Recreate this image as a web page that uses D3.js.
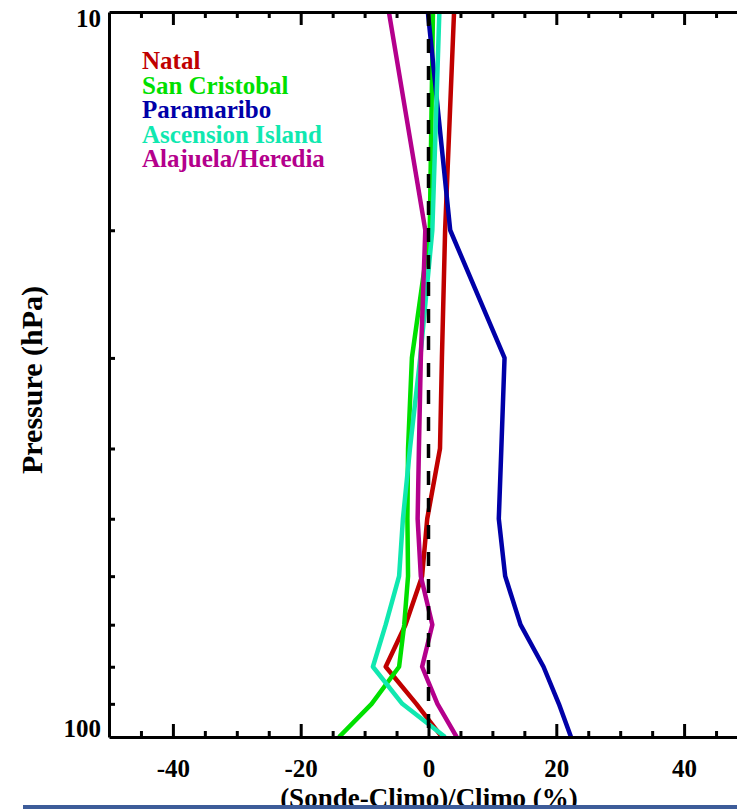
<!DOCTYPE html>
<html>
<head>
<meta charset="utf-8">
<script src="https://cdn.jsdelivr.net/npm/d3@7"></script>
<style>
  body { margin: 0; background: #fff; }
  svg { display: block; }
  svg text { font-weight: bold; }
</style>
</head>
<body>
<svg width="737" height="809"></svg>
<script>
// Pressure levels (hPa) and the relative difference of each station (%)
var pressure = [10, 20, 30, 40, 50, 60, 70, 80, 90, 100];
var natal        = [ 4.0,  2.6,  2.1,  1.8, -0.2, -1.0, -3.6, -6.7, -1.9,  2.1];
var sanCristobal = [ 0.7,  0.2, -2.6, -3.2, -3.3, -3.2, -3.8, -4.6, -8.9, -14.0];
var paramaribo   = [-0.1,  3.4, 11.9, 11.4, 11.0, 12.0, 14.4, 18.0, 20.4, 22.3];
var ascension    = [ 1.7,  0.6, -1.3, -2.9, -4.0, -4.6, -6.7, -8.7, -4.1,  2.6];
var alajuela     = [-6.2, -0.5, -1.2, -1.5, -1.7, -1.2,  0.6, -1.0,  1.4,  4.4];

var stations = ["Natal", "San Cristobal", "Paramaribo", "Ascension Island", "Alajuela/Heredia"];
var colors = ["#c00000", "#00e000", "#0000a8", "#10e8b0", "#b4008c"];
var series = [natal, sanCristobal, paramaribo, ascension, alajuela];

var xMajor = [-40, -20, 0, 20, 40];
var xMinor = [-45, -35, -30, -25, -15, -10, -5, 5, 10, 15, 25, 30, 35, 45];
var yTicks = [20, 30, 40, 50, 60, 70, 80, 90];

var serif = "Liberation Serif, Tinos, Times New Roman, Times, DejaVu Serif, serif";

// The svg
var svg = d3.select("svg"),
  width = +svg.attr("width"),
  height = +svg.attr("height");

var x = d3.scaleLinear().domain([-50, 50]).range([109, 748]);
var y = d3.scaleLog().domain([10, 100]).range([12, 737]);

svg.append("defs").append("clipPath").attr("id", "plot")
  .append("rect")
    .attr("x", x(-50)).attr("y", y(10))
    .attr("width", x(50) - x(-50)).attr("height", y(100) - y(10));

// station profiles
var line = d3.line()
  .x(function(d) { return x(d[0]); })
  .y(function(d) { return y(d[1]); });

var g = svg.append("g").attr("clip-path", "url(#plot)");
series.forEach(function(s, i) {
  g.append("path")
    .datum(s.map(function(v, k) { return [v, pressure[k]]; }))
    .attr("d", line)
    .attr("fill", "none")
    .attr("stroke", colors[i])
    .attr("stroke-width", 4.5)
    .attr("stroke-linejoin", "round");
});

// zero line
g.append("line")
  .attr("x1", x(0)).attr("x2", x(0))
  .attr("y1", y(10)).attr("y2", y(100))
  .attr("stroke", "#000")
  .attr("stroke-width", 3.5)
  .attr("stroke-dasharray", "14,13");

// axes
function styleAxis(sel) {
  sel.attr("font-family", serif);
  sel.selectAll("path").attr("stroke", "#000").attr("stroke-width", 3);
  sel.selectAll("line").attr("stroke", "#000").attr("stroke-width", 3);
}

svg.append("g")
  .attr("transform", "translate(0," + y(100) + ")")
  .call(d3.axisBottom(x).tickValues(xMinor).tickSizeInner(-6).tickSizeOuter(0).tickFormat(""))
  .call(styleAxis);
var bottom = svg.append("g")
  .attr("transform", "translate(0," + y(100) + ")")
  .call(d3.axisBottom(x).tickValues(xMajor).tickSizeInner(-13).tickSizeOuter(0)
    .tickFormat(function(d) { return String(d); }))
  .call(styleAxis);
bottom.select(".domain").remove();
bottom.selectAll("text")
  .attr("y", 40).attr("dy", 0)
  .attr("fill", "#000")
  .attr("font-family", serif)
  .attr("font-size", 25)
  .attr("font-weight", "bold");

svg.append("g")
  .attr("transform", "translate(0," + y(10) + ")")
  .call(d3.axisTop(x).tickValues(xMinor).tickSizeInner(-6).tickSizeOuter(0).tickFormat(""))
  .call(styleAxis);
svg.append("g")
  .attr("transform", "translate(0," + y(10) + ")")
  .call(d3.axisTop(x).tickValues(xMajor).tickSizeInner(-13).tickSizeOuter(0).tickFormat(""))
  .call(styleAxis)
  .select(".domain").remove();

svg.append("g")
  .attr("transform", "translate(" + x(-50) + ",0)")
  .call(d3.axisLeft(y).tickValues(yTicks).tickSizeInner(-6).tickSizeOuter(0).tickFormat(""))
  .call(styleAxis);
svg.append("g")
  .attr("transform", "translate(" + x(50) + ",0)")
  .call(d3.axisRight(y).tickValues(yTicks).tickSizeInner(-6).tickSizeOuter(0).tickFormat(""))
  .call(styleAxis);

// y labels only at the ends
svg.selectAll(".ylab")
  .data([10, 100])
  .enter()
  .append("text")
    .attr("class", "ylab")
    .attr("x", x(-50) - 8)
    .attr("y", function(d) { return d === 10 ? y(d) + 15 : y(d); })
    .attr("text-anchor", "end")
    .attr("font-family", serif)
    .attr("font-size", 25)
    .text(function(d) { return d; });

// axis titles
svg.append("text")
  .attr("transform", "translate(42," + 380 + ") rotate(-90)")
  .attr("text-anchor", "middle")
  .attr("font-family", serif)
  .attr("font-size", 30)
  .text("Pressure (hPa)");

svg.append("text")
  .attr("x", 429).attr("y", 807)
  .attr("text-anchor", "middle")
  .attr("font-family", serif)
  .attr("font-size", 27)
  .text("(Sonde-Climo)/Climo (%)");

svg.append("rect")
  .attr("x", 23).attr("y", 805)
  .attr("width", width - 23).attr("height", 4)
  .attr("fill", "#3d5c99");

// legend
svg.selectAll(".legend")
  .data(stations)
  .enter()
  .append("text")
    .attr("class", "legend")
    .attr("x", 142)
    .attr("y", function(d, i) { return 69 + i * 24.5; })
    .attr("fill", function(d, i) { return colors[i]; })
    .attr("font-family", serif)
    .attr("font-size", 25)
    .text(function(d) { return d; });
</script>
</body>
</html>
